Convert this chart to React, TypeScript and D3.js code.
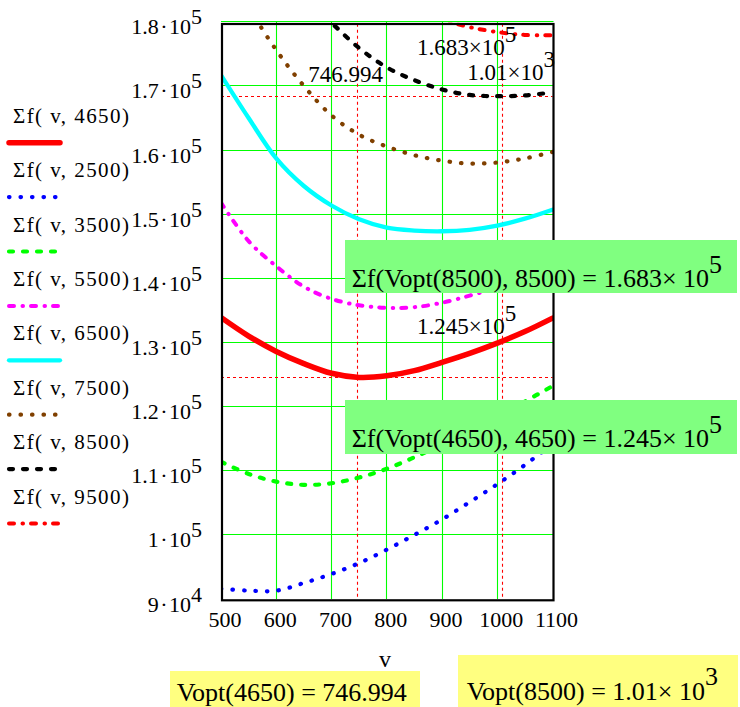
import React from 'react';
import * as d3 from 'd3';

// speed values along the x axis
const vValues = [500, 550, 600, 650, 700, 750, 800, 850, 900, 950, 1000, 1050, 1100];

// Σf(v, N), one array per N
const sf4650 = [133900, 131000, 128600, 126700, 125200, 124550, 124800, 125600, 126900, 128300, 129900, 131700, 133800];
const sf2500 = [91600, 91300, 91300, 92500, 93900, 95600, 97700, 100000, 102400, 105100, 107900, 110900, 114200];
const sf3500 = [111400, 109500, 108300, 107800, 108050, 108950, 110300, 112100, 114100, 116200, 118400, 120800, 123200];
const sf5500 = [151800, 145800, 141900, 138700, 136800, 135800, 135400, 135500, 136200, 137300, 138500, 139700, 141000];
const sf6500 = [171700, 165000, 158700, 154400, 151360, 149200, 147900, 147450, 147340, 147570, 148230, 149300, 150700];
const sf7500 = [190000, 182300, 175600, 170000, 165400, 162400, 160550, 159200, 158350, 157900, 158050, 158700, 159700];
const sf8500 = [204000, 196000, 189500, 184000, 179850, 175900, 172900, 170900, 169450, 168600, 168400, 168530, 169000];
const sf9500 = [203000, 198500, 194500, 190500, 187500, 185000, 183200, 181600, 180300, 179170, 178400, 177950, 177900];

const seriesLabels = ['4650', '2500', '3500', '5500', '6500', '7500', '8500', '9500'];

const xTicks = [500, 600, 700, 800, 900, 1000, 1100];
const yTicks = [180000, 170000, 160000, 150000, 140000, 130000, 120000, 110000, 100000, 90000];
const yTickMantissa = ['1.8', '1.7', '1.6', '1.5', '1.4', '1.3', '1.2', '1.1', '1', '9'];
const yTickExp = ['5', '5', '5', '5', '5', '5', '5', '5', '5', '4'];

const vOpt4650 = 746.994;
const vOpt8500 = 1010;
const sfOpt4650 = 124500;
const sfOpt8500 = 168300;

const FONT = '"Liberation Serif", "Times New Roman", serif';

const App: React.FC = () => {
  const x = d3.scaleLinear().domain([500, 1100]).range([221, 552.5]);
  const y = d3.scaleLinear().domain([90000, 180000]).range([599, 21.8]);

  const seriesData = [sf4650, sf2500, sf3500, sf5500, sf6500, sf7500, sf8500, sf9500];

  // line styles per series (same order as seriesLabels)
  const dotted = '0.5 11';
  const dashed = '4 10';
  const dashDot = '5 8.5 0.5 8';
  const styles = [
    { color: '#ff0000', width: 5.5, dash: undefined },
    { color: '#0000ff', width: 4.2, dash: dotted },
    { color: '#00ff00', width: 4.2, dash: dashed },
    { color: '#ff00ff', width: 4, dash: dashDot },
    { color: '#00ffff', width: 4.3, dash: undefined },
    { color: '#804000', width: 4.2, dash: dotted },
    { color: '#000000', width: 4.2, dash: dashed },
    { color: '#ff0000', width: 4, dash: dashDot },
  ];

  const line = d3
    .line<number>()
    .x((_, i) => x(vValues[i]))
    .y((d) => y(d))
    .curve(d3.curveCatmullRom);

  const left = x(500);
  const right = x(1100);
  const top = y(180000);
  const bottom = y(90000);
  const px = (v: number) => Math.floor(v) + 0.5; // crisp 1px lines

  return (
    <svg
      width={740}
      height={707}
      style={{ position: 'absolute', left: 0, top: 0, background: '#fff' }}
      fontFamily={FONT}
    >
      <defs>
        <clipPath id="plotClip">
          <rect x={left} y={top + 1} width={right - left + 1} height={bottom - top} />
        </clipPath>
      </defs>

      {/* grid */}
      {yTicks.slice(0, -1).map((t) => (
        <line key={'gy' + t} x1={left} x2={right + 1} y1={px(y(t))} y2={px(y(t))} stroke="#00ff00" strokeWidth={1.1} />
      ))}
      {xTicks.slice(1, -1).map((t) => (
        <line key={'gx' + t} x1={px(x(t))} x2={px(x(t))} y1={top} y2={bottom} stroke="#00ff00" strokeWidth={1.1} />
      ))}

      {/* markers */}
      <g stroke="#ff0000" strokeWidth={1.1} strokeDasharray="3 3">
        <line x1={px(x(vOpt4650))} x2={px(x(vOpt4650))} y1={top + 2} y2={bottom} />
        <line x1={px(x(vOpt8500))} x2={px(x(vOpt8500))} y1={top + 2} y2={bottom} />
        <line x1={left} x2={right} y1={px(y(sfOpt8500))} y2={px(y(sfOpt8500))} />
        <line x1={left} x2={right} y1={px(y(sfOpt4650))} y2={px(y(sfOpt4650))} />
      </g>

      {/* curves */}
      <g clipPath="url(#plotClip)" fill="none" strokeLinecap="round" strokeLinejoin="round">
        {seriesData.map((s, i) => (
          <path
            key={seriesLabels[i]}
            d={line(s) || ''}
            stroke={styles[i].color}
            strokeWidth={styles[i].width}
            strokeDasharray={styles[i].dash}
          />
        ))}
      </g>

      {/* frame */}
      <rect
        x={left + 1}
        y={top + 2.2}
        width={right - left}
        height={bottom - top - 0.9}
        fill="none"
        stroke="#000"
        strokeWidth={2.2}
      />

      {/* y tick labels */}
      {yTicks.map((t, i) => (
        <text key={'yl' + t} x={202} y={y(t) + 12.5} textAnchor="end" fontSize={22} fill="#000">
          {yTickMantissa[i]}
          <tspan dx={1.5}>·</tspan>
          <tspan dx={1.5}>10</tspan>
          <tspan dy={-10}>{yTickExp[i]}</tspan>
        </text>
      ))}

      {/* x tick labels */}
      {xTicks.map((t) => (
        <text key={'xl' + t} x={x(t) + 4} y={627.3} textAnchor="middle" fontSize={22} fill="#000">
          {t}
        </text>
      ))}
      <text x={385} y={667} textAnchor="middle" fontSize={24}>
        v
      </text>

      {/* marker labels */}
      <text x={x(vOpt4650) + 25.6} y={top + 60} textAnchor="end" fontSize={23}>
        {vOpt4650}
      </text>
      <text x={right + 2.5} y={top + 58} textAnchor="end" fontSize={23}>
        1.01×10<tspan dy={-13}>3</tspan>
      </text>
      <text x={x(vOpt8500) + 13.5} y={y(sfOpt8500) - 42} textAnchor="end" fontSize={23}>
        1.683×10<tspan dy={-13}>5</tspan>
      </text>
      <text x={x(vOpt8500) + 13.5} y={y(sfOpt4650) - 44} textAnchor="end" fontSize={23}>
        1.245×10<tspan dy={-13}>5</tspan>
      </text>

      {/* legend */}
      {seriesLabels.map((lab, i) => {
        const ty = 122.7 + i * 54.4;
        return (
          <g key={'lg' + lab}>
            <text x={13} y={ty} fontSize={21} textLength={116} lengthAdjust="spacing">
              Σf( v, {lab})
            </text>
            <line
              x1={9}
              x2={60}
              y1={ty + 20}
              y2={ty + 20}
              stroke={styles[i].color}
              strokeWidth={styles[i].width}
              strokeDasharray={styles[i].dash}
              strokeLinecap="round"
            />
          </g>
        );
      })}

      {/* result boxes */}
      <rect x={345} y={240} width={392} height={53} fill="#80ff80" />
      <text x={351.7} y={287} fontSize={26}>
        Σf(Vopt(8500), 8500) = 1.683× 10<tspan dy={-14}>5</tspan>
      </text>
      <rect x={345} y={400} width={392} height={54} fill="#80ff80" />
      <text x={351.7} y={447} fontSize={26}>
        Σf(Vopt(4650), 4650) = 1.245× 10<tspan dy={-14}>5</tspan>
      </text>

      <rect x={170} y={671} width={250} height={36} fill="#ffff80" />
      <text x={176.7} y={701} fontSize={26}>
        Vopt(4650) = 746.994
      </text>
      <rect x={458} y={655} width={280} height={52} fill="#ffff80" />
      <text x={466.7} y={700} fontSize={26}>
        Vopt(8500) = 1.01× 10<tspan dy={-15}>3</tspan>
      </text>
    </svg>
  );
};

export default App;
